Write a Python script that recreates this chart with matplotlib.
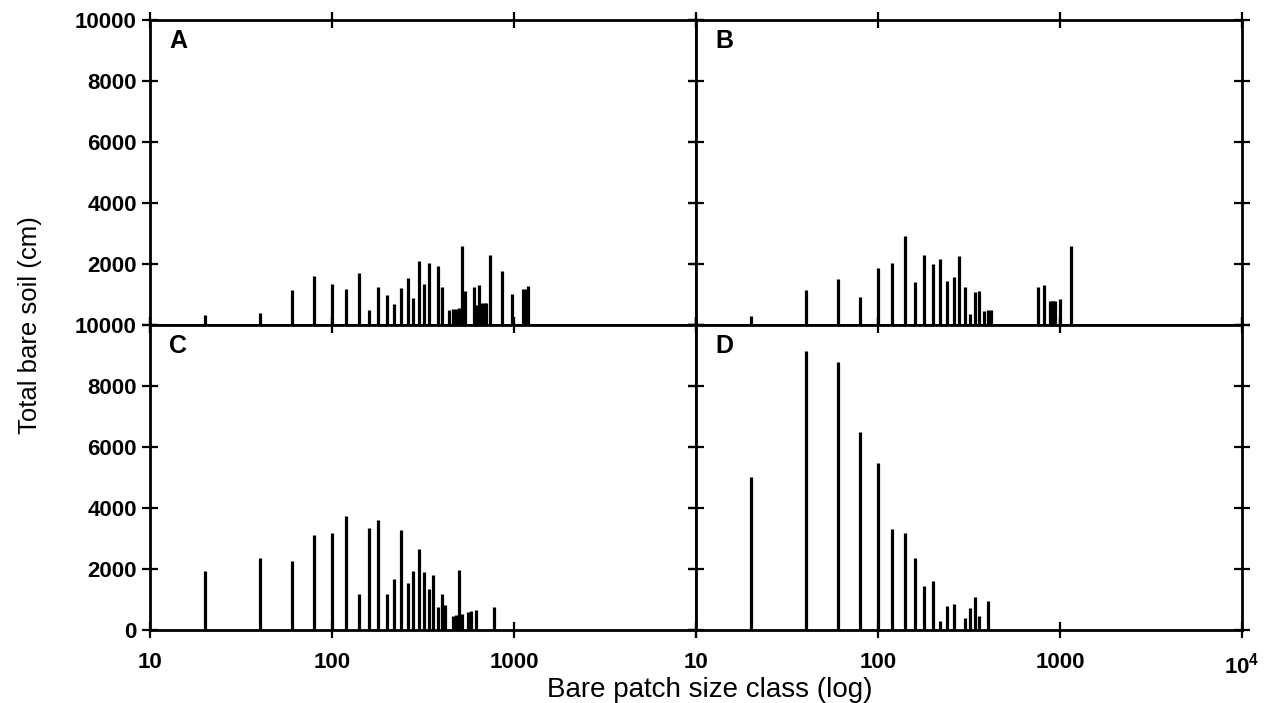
import matplotlib.pyplot as plt
from matplotlib.ticker import FixedLocator, FixedFormatter, NullLocator

plt.rcParams['font.family'] = ['Liberation Sans', 'DejaVu Sans']
plt.rcParams['mathtext.fontset'] = 'custom'
plt.rcParams['mathtext.bf'] = 'Liberation Sans:bold'
plt.rcParams['mathtext.rm'] = 'Liberation Sans:bold'

# size classes (x) and total bare soil (y) for each panel
a_x = [20, 40, 60, 80, 100, 120, 140, 160, 180, 200, 220, 240, 260, 280, 300, 320, 340,
       380, 400, 440, 460, 480, 500, 520, 540, 600, 620, 640, 660, 680, 700, 740, 860,
       980, 1120, 1160, 1200]
a_y = [340, 400, 1140, 1610, 1350, 1170, 1700, 490, 1230, 980, 700, 1200, 1540, 870, 2110,
       1330, 2040, 1920, 1250, 480, 510, 530, 560, 2580, 1120, 1250, 670, 1300, 730, 730,
       730, 2280, 1780, 1030, 1170, 1190, 1270]

b_x = [20, 40, 60, 80, 100, 120, 140, 160, 180, 200, 220, 240, 260, 280, 300, 320, 340,
       360, 380, 400, 420, 760, 820, 880, 900, 920, 940, 1000, 1150]
b_y = [300, 1140, 1520, 920, 1860, 2020, 2930, 1410, 2300, 2000, 2170, 1430, 1590, 2260,
       1250, 360, 1080, 1120, 460, 490, 490, 1250, 1300, 800, 800, 800, 800, 850, 2600]

c_x = [20, 40, 60, 80, 100, 120, 140, 160, 180, 200, 220, 240, 260, 280, 300, 320, 340,
       360, 380, 400, 420, 460, 480, 500, 520, 560, 580, 620, 780]
c_y = [1930, 2360, 2260, 3100, 3190, 3750, 1180, 3340, 3600, 1180, 1680, 3280, 1540, 1930,
       2640, 1890, 1360, 1800, 770, 1190, 830, 460, 500, 1970, 530, 580, 610, 640, 770]

d_x = [20, 40, 60, 80, 100, 120, 140, 160, 180, 200, 220, 240, 260, 300, 320, 340, 360, 400]
d_y = [5030, 9160, 8800, 6480, 5490, 3310, 3190, 2350, 1430, 1610, 310, 780, 840, 380, 720,
       1080, 460, 950]

panels = [('A', a_x, a_y), ('B', b_x, b_y), ('C', c_x, c_y), ('D', d_x, d_y)]

x_ticks = [10, 100, 1000, 10000]
y_ticks = [0, 2000, 4000, 6000, 8000, 10000]

fig = plt.figure(figsize=(12.64, 7.03), dpi=100)

W, H = 1264, 703
left, mid_x, right = 150, 696, 1242
top, mid_y, bottom = 20, 325, 630

for i, (name, xs, ys) in enumerate(panels):
    row, col = divmod(i, 2)
    x0 = left if col == 0 else mid_x
    y1 = top if row == 0 else mid_y
    ax = fig.add_axes([x0 / W, 1 - (y1 + (mid_y - top)) / H,
                       (mid_x - left) / W, (mid_y - top) / H])
    ax.vlines(xs, 0, ys, color='black', linewidth=2.3)
    ax.set_xscale('log')
    ax.set_xlim(10, 10000)
    ax.set_ylim(0, 10000)
    ax.xaxis.set_major_locator(FixedLocator(x_ticks))
    ax.xaxis.set_minor_locator(NullLocator())
    ax.yaxis.set_major_locator(FixedLocator(y_ticks))
    for s in ax.spines.values():
        s.set_linewidth(2)
    ax.tick_params(which='major', direction='inout', length=12, width=1.6,
                   top=True, right=True, labelsize=16)

    # tick labels only on outer left / bottom
    if row == 1:
        if col == 0:
            xl = ['10', '100', '1000', '']
        else:
            xl = ['10', '100', '1000', r'$\mathbf{10^4}$']
        ax.xaxis.set_major_formatter(FixedFormatter(xl))
        for lab in ax.get_xticklabels():
            lab.set_fontweight('bold')
        ax.tick_params(axis='x', pad=10)
    else:
        ax.tick_params(axis='x', labelbottom=False)

    if col == 0:
        if row == 0:
            yl = ['', '2000', '4000', '6000', '8000', '10000']
        else:
            yl = ['0', '2000', '4000', '6000', '8000', '10000']
        ax.yaxis.set_major_formatter(FixedFormatter(yl))
        for lab in ax.get_yticklabels():
            lab.set_fontweight('bold')
    else:
        ax.tick_params(axis='y', labelleft=False)

    ax.text(0.035, 0.97, name, transform=ax.transAxes, ha='left', va='top',
            fontsize=18, fontweight='bold')

fig.text(30 / W, 1 - 325 / H, 'Total bare soil (cm)', rotation=90,
         ha='center', va='center', fontsize=18.5)
fig.text(710 / W, 1 - 690 / H, 'Bare patch size class (log)',
         ha='center', va='center', fontsize=20)

fig.savefig('out.png', dpi=100)
